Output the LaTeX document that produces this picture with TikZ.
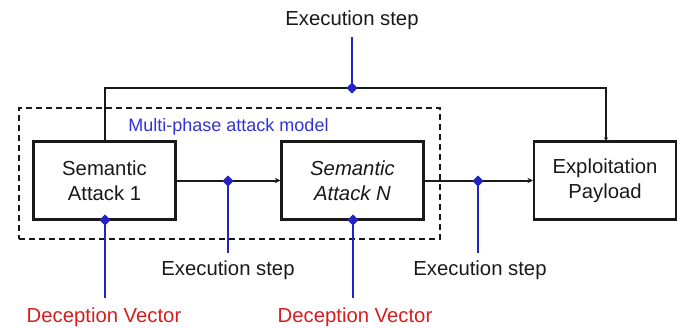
\documentclass[tikz,border=0pt]{standalone}
\usepackage{fontspec}
\setmainfont{Liberation Sans}
\usetikzlibrary{shapes.geometric,arrows.meta}
\definecolor{lblue}{RGB}{35,35,195}
\definecolor{tblue}{RGB}{50,50,215}
\definecolor{tred}{RGB}{215,30,30}
\definecolor{ink}{RGB}{25,25,25}
\begin{document}
\begin{tikzpicture}[x=1pt,y=-1pt,
  box/.style={draw=ink,line width=2.2pt,minimum width=142pt,minimum height=78pt,align=center,inner sep=0pt,text=ink,font=\fontsize{20.3}{25}\selectfont},
  conn/.style={draw=ink,line width=2pt},
  arr/.style={-{Stealth[length=5.5pt,width=5.5pt]}},
  sarr/.style={-{Stealth[length=3pt,width=4.5pt]}},
  bline/.style={draw=lblue,line width=2pt},
  dmd/.style={diamond,fill=lblue,inner sep=0pt,minimum width=11pt,minimum height=11pt},
  lab/.style={font=\fontsize{20.3}{24}\selectfont,text=ink,inner sep=0pt},
  rlab/.style={font=\fontsize{20.3}{24}\selectfont,text=tred,inner sep=0pt}]
\useasboundingbox (0,0) rectangle (683,327);
% frame
\node[draw=ink,line width=1.8pt,dash pattern=on 6pt off 4pt,minimum width=421pt,minimum height=131pt,inner sep=0pt] (frame) at (229.5,173.5) {};
\node[font=\fontsize{18}{20}\selectfont,text=tblue,inner sep=0pt] (mlabel) at (228.5,127) {Multi-phase attack model};
% boxes
\node[box] (b1) at (104.5,180.5) {Semantic\\Attack 1};
\node[box,font=\fontsize{20.3}{25}\selectfont\itshape] (bn) at (352.5,180.5) {Semantic\\Attack N};
\node[box] (be) at (605,180.5) {Exploitation\\Payload};
% diamonds
\node[dmd] (d1) at (228,181) {};
\node[dmd] (d2) at (478,181) {};
\node[dmd] (dt) at (352,88) {};
\node[dmd] (dv1) at (105,220) {};
\node[dmd] (dvn) at (353,220) {};
% connectors
\draw[conn,arr] (b1.east) -- (bn.west);
\draw[conn,arr] (bn.east) -- (be.west);
\coordinate (tl) at (105,88);
\coordinate (tr) at (606,88);
\draw[conn,sarr] (b1.north -| tl) -- (tl) -- (tr) -- (be.north -| tr);
% labels
\node[lab] (et) at (352,20) {Execution step};
\node[lab] (e1) at (228,270) {Execution step};
\node[lab] (e2) at (480,270) {Execution step};
\node[rlab] (v1) at (104,317) {Deception Vector};
\node[rlab] (vn) at (355,317) {Deception Vector};
\coordinate (ct) at (352,37);
\coordinate (c1) at (228,253);
\coordinate (c2) at (478,253);
\coordinate (cv1) at (105,298);
\coordinate (cvn) at (353,298);
\draw[bline] (ct) -- (dt.center);
\draw[bline] (d1.center) -- (c1);
\draw[bline] (d2.center) -- (c2);
\draw[bline] (dv1.center) -- (cv1);
\draw[bline] (dvn.center) -- (cvn);
\node[dmd] at (dt) {};
\node[dmd] at (d1) {};
\node[dmd] at (d2) {};
\node[dmd] at (dv1) {};
\node[dmd] at (dvn) {};
\end{tikzpicture}
\end{document}
